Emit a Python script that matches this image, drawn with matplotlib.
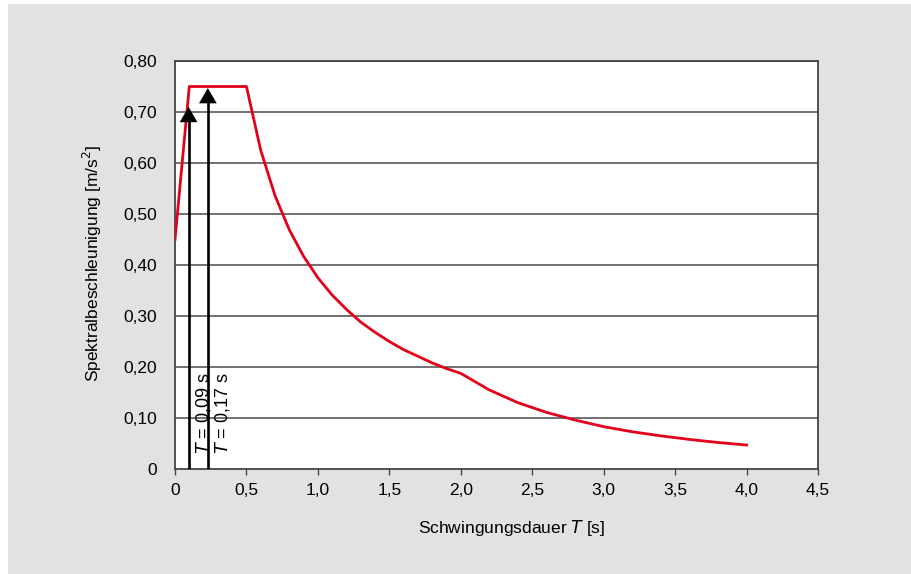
import matplotlib
matplotlib.use("Agg")
import matplotlib.pyplot as plt
from matplotlib.patches import Rectangle

plt.rcParams['font.family'] = ['Liberation Sans', 'DejaVu Sans']

# Data
period = [0.0, 0.1, 0.5, 0.6, 0.7, 0.8, 0.9, 1.0, 1.1, 1.2, 1.3, 1.4, 1.5,
          1.6, 1.7, 1.8, 1.9, 2.0, 2.2, 2.4, 2.6, 2.8, 3.0, 3.2, 3.4, 3.6,
          3.8, 4.0]
accel = [0.45, 0.75, 0.75, 0.625, 0.536, 0.469, 0.417, 0.375, 0.341, 0.313,
         0.288, 0.268, 0.25, 0.234, 0.221, 0.208, 0.197, 0.1875, 0.155,
         0.130, 0.111, 0.096, 0.083, 0.073, 0.065, 0.058, 0.052, 0.047]

marker_T = [0.095, 0.23]
marker_tip = [0.71, 0.747]
marker_labels = ["0,09", "0,17"]

xticks = [0, 0.5, 1.0, 1.5, 2.0, 2.5, 3.0, 3.5, 4.0, 4.5]
xticklabels = ["0", "0,5", "1,0", "1,5", "2,0", "2,5", "3,0", "3,5", "4,0", "4,5"]
yticks = [0, 0.1, 0.2, 0.3, 0.4, 0.5, 0.6, 0.7, 0.8]
yticklabels = ["0", "0,10", "0,20", "0,30", "0,40", "0,50", "0,60", "0,70", "0,80"]

W, H = 912, 574
fig = plt.figure(figsize=(W / 100, H / 100), dpi=100)
fig.patch.set_facecolor("white")
fig.patches.append(Rectangle((8 / W, 0), 1 - 8 / W, 1 - 4 / H,
                             transform=fig.transFigure, facecolor="#e1e2e1",
                             edgecolor="none", zorder=-10))

ax = fig.add_axes([175 / W, 1 - 469 / H, (818 - 175) / W, (469 - 61) / H])
ax.set_facecolor("white")
ax.set_xlim(0, 4.5)
ax.set_ylim(0, 0.8)

for y in yticks[1:]:
    ax.axhline(y, color="#4a4a4a", lw=1.1, zorder=1)

ax.plot(period, accel, color="#e2001a", lw=2.0, zorder=3)

head_h = 0.03
for t, tip, lab in zip(marker_T, marker_tip, marker_labels):
    ax.plot([t, t], [0, tip - head_h], color="black", lw=1.9, zorder=4)
    ax.fill([t - 0.062, t + 0.062, t], [tip - head_h, tip - head_h, tip],
            color="black", zorder=5, lw=0)
    ax.text(t + 0.035, 0.03, r"$\it{T}$" + " = " + lab + " s", rotation=90,
            ha="left", va="bottom", fontsize=13, zorder=5)

ax.set_xticks(xticks)
ax.set_xticklabels(xticklabels)
ax.set_yticks(yticks)
ax.set_yticklabels(yticklabels)
ax.tick_params(axis="x", length=4, width=1, color="#444444", labelsize=12.5,
               pad=6)
ax.tick_params(axis="y", length=0, labelsize=12.5, pad=13)
for s in ax.spines.values():
    s.set_color("#444444")
    s.set_linewidth(1.3)

fig.text(92 / W, 1 - 263 / H, "Spektralbeschleunigung [m/s$^2$]", rotation=90,
         ha="center", va="center", fontsize=12.5)
fig.text(512 / W, 1 - 528 / H, "Schwingungsdauer $\\it{T}$ [s]",
         ha="center", va="center", fontsize=12.5)

fig.savefig("out.png", dpi=100, facecolor=fig.get_facecolor())
